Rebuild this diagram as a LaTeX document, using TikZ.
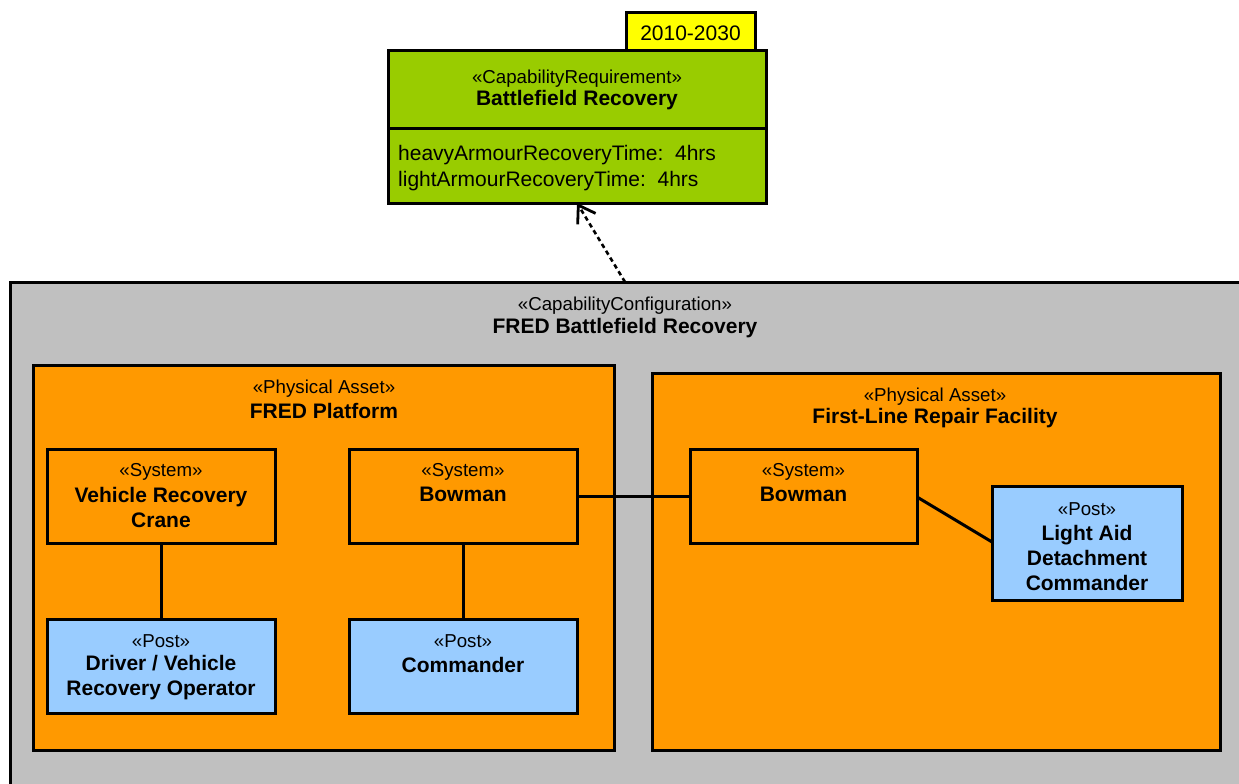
\documentclass[tikz,border=0pt]{standalone}
\usepackage{fontspec}
\setmainfont{Liberation Sans}
\usetikzlibrary{arrows.meta}
\definecolor{reqgreen}{HTML}{99CC00}
\definecolor{tagyellow}{HTML}{FFFF00}
\definecolor{cfggray}{HTML}{C0C0C0}
\definecolor{assetorange}{HTML}{FF9900}
\definecolor{postblue}{HTML}{99CCFF}
\begin{document}
\begin{tikzpicture}[x=1pt,y=-1pt,
  box/.style={draw=black, line width=3pt, anchor=north west, inner sep=0pt, outer sep=0pt},
  ster/.style={font=\fontsize{18.7}{22}\selectfont, inner sep=0pt, align=center, yshift=-2.5pt},
  ttl/.style={font=\fontsize{21}{25.5}\selectfont\bfseries, inner sep=0pt, align=center, yshift=-0.5pt},
  attr/.style={font=\fontsize{21}{26}\selectfont, inner sep=0pt, align=left, anchor=west, yshift=-2pt},
  conn/.style={draw=black, line width=3pt},
  dep/.style={draw=black, line width=2.6pt, dash pattern=on 4.5pt off 3.5pt, -{Straight Barb[length=16pt,width=21pt,line width=2.8pt]}}]
\useasboundingbox (0,0) rectangle (1239,784);
\fill[white] (0,0) rectangle (1239,784);
% configuration
\begin{scope}
\clip (0,0) rectangle (1239,784);
\node[box, fill=cfggray, minimum width=1260pt, minimum height=540pt] (cfg) at (10,282) {};
\end{scope}
\node[ster] (cfgs) at (625,303) {«CapabilityConfiguration»};
\node[ttl] (cfgt) at (625,328) {FRED Battlefield Recovery};
% requirement
\node[box, fill=tagyellow, minimum width=129pt, minimum height=40pt] (tag) at (626,13) {};
\node[font=\fontsize{21}{25}\selectfont, inner sep=0pt] (tagt) at (690.5,33) {2010-2030};
\node[box, fill=reqgreen, minimum width=378pt, minimum height=152pt] (req) at (388,51) {};
\draw[conn] ([yshift=-77pt]req.north west) -- ([yshift=-77pt]req.north east);
\node[ster] (reqs) at (577,76) {«CapabilityRequirement»};
\node[ttl] (reqt) at (577,100) {Battlefield Recovery};
\node[attr] (reqa) at (398,166) {heavyArmourRecoveryTime:\ \ 4hrs\\lightArmourRecoveryTime:\ \ 4hrs};
% dependency
\coordinate (arrstart) at (625,282);
\draw[dep] (arrstart) -- (req.south);
% assets
\node[box, fill=assetorange, minimum width=581pt, minimum height=385pt] (fred) at (33,365) {};
\node[ster] (freds) at (324,386) {«Physical Asset»};
\node[ttl] (fredt) at (324,410) {FRED Platform};
\node[box, fill=assetorange, minimum width=568pt, minimum height=377pt] (flrf) at (652,373) {};
\node[ster] (flrfs) at (935,394) {«Physical Asset»};
\node[ttl] (flrft) at (935,418) {First-Line Repair Facility};
% systems
\node[box, fill=assetorange, minimum width=228pt, minimum height=94pt] (vrc) at (47,449) {};
\node[ster] (vrcs) at (161,469) {«System»};
\node[ttl] (vrct) at (161,507) {Vehicle Recovery\\Crane};
\node[box, fill=assetorange, minimum width=228pt, minimum height=94pt] (bow1) at (349,449) {};
\node[ster] (bow1s) at (463,469) {«System»};
\node[ttl] (bow1t) at (463,494) {Bowman};
\node[box, fill=assetorange, minimum width=227pt, minimum height=94pt] (bow2) at (690,449) {};
\node[ster] (bow2s) at (803.5,469) {«System»};
\node[ttl] (bow2t) at (803.5,494) {Bowman};
% posts
\node[box, fill=postblue, minimum width=228pt, minimum height=94pt] (drv) at (47,619) {};
\node[ster] (drvs) at (161,639) {«Post»};
\node[ttl] (drvt) at (161,677) {Driver / Vehicle\\Recovery Operator};
\node[box, fill=postblue, minimum width=228pt, minimum height=94pt] (cmd) at (349,619) {};
\node[ster] (cmds) at (463,639) {«Post»};
\node[ttl] (cmdt) at (463,664) {Commander};
\node[box, fill=postblue, minimum width=190pt, minimum height=114pt] (lad) at (992,486) {};
\node[ster] (lads) at (1087,507) {«Post»};
\node[ttl, font=\fontsize{21}{25}\selectfont\bfseries] (ladt) at (1087,557) {Light Aid\\Detachment\\Commander};
% connectors
\draw[conn] (vrc.south) -- (drv.north);
\draw[conn] (bow1.south) -- (cmd.north);
\draw[conn] ([yshift=-47pt]bow1.north east) -- ([yshift=-47pt]bow2.north west);
\draw[conn] ([yshift=-48pt]bow2.north east) -- ([yshift=-56pt]lad.north west);
\end{tikzpicture}
\end{document}
